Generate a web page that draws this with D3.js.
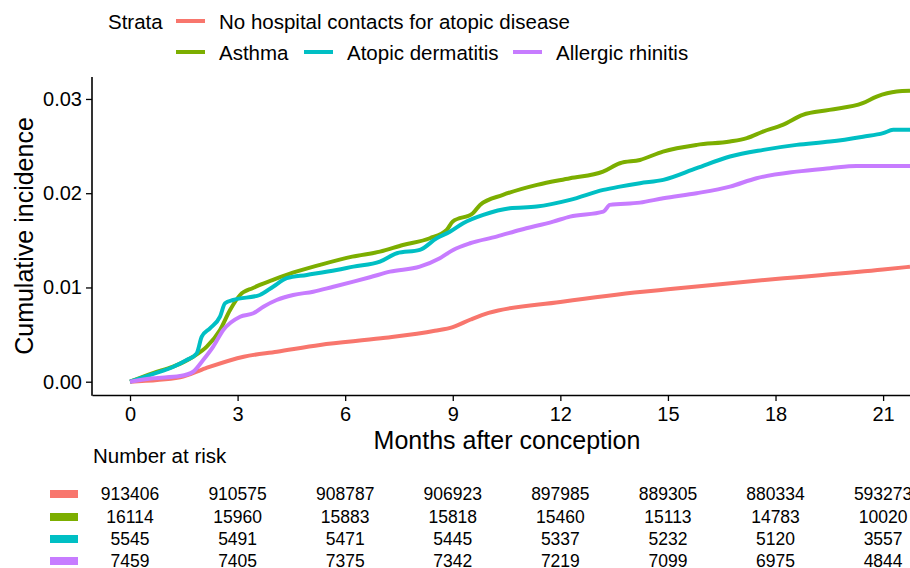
<!DOCTYPE html>
<meta charset="utf-8"/>
<style>
  body { margin: 0; background: #fff; }
  svg text { font-family: "Liberation Sans", Arial, sans-serif; fill: #000; }
  .curves path { fill: none; stroke-width: 4px; stroke-linejoin: round; }
</style>
<svg width="910" height="568"></svg>
<script src="https://d3js.org/d3.v7.min.js"></script>
<script>

  // strata, in legend order
  var strata = ["No hospital contacts for atopic disease", "Asthma", "Atopic dermatitis", "Allergic rhinitis"];
  var colors = ["#F8766D", "#7CAE00", "#00BFC4", "#C77CFF"];

  // curves: [months, cumulative incidence]
  var noContact = [[0,0],[1.4,0.00047],[2.1,0.00142],[3.17,0.00265],[4.1,0.00318],[5.3,0.0039],[7.0,0.0046],
    [8.5,0.0054],[9.0,0.0058],[9.5,0.0066],[10,0.0073],[12,0.00846],[14.3,0.00955],[15,0.0098],
    [18,0.0109],[21,0.0119],[21.75,0.0122]];
  var asthma = [[0,0],[0.64,0.00092],[1.2,0.00159],[1.76,0.00265],[2.14,0.00372],[2.51,0.00549],[2.79,0.00761],
    [3.07,0.0092],[3.43,0.00995],[3.99,0.0108],[4.54,0.01157],[5.3,0.0124],[6.2,0.01327],[6.97,0.0138],
    [7.61,0.01451],[8.36,0.01522],[8.83,0.0161],[9.0,0.017],[9.56,0.01788],[9.76,0.01876],[10.4,0.01982],
    [11.35,0.02088],[12.27,0.02159],[13.19,0.02229],[13.66,0.02318],[14.22,0.02353],[14.86,0.02442],
    [15.81,0.02513],[16.73,0.02548],[17.2,0.02584],[17.65,0.02654],[18.2,0.02725],[18.76,0.02832],
    [19.5,0.02884],[20.43,0.02955],[20.82,0.03025],[21.38,0.03079],[21.75,0.03086]];
  var atopicDermatitis = [[0,0],[0.65,0.00082],[1.21,0.00159],[1.58,0.0023],[1.86,0.00301],[2.0,0.00478],
    [2.23,0.00567],[2.51,0.0069],[2.65,0.00832],[2.88,0.00867],[3.62,0.0092],[3.99,0.01008],[4.37,0.01098],
    [4.93,0.01133],[5.76,0.01186],[6.23,0.01221],[6.97,0.01274],[7.44,0.01363],[8.08,0.01398],[8.55,0.01522],
    [8.92,0.01592],[9.29,0.01682],[9.85,0.0177],[10.59,0.01841],[11.34,0.01858],[12.27,0.01929],[13.2,0.02035],
    [13.66,0.0207],[14.22,0.02106],[14.87,0.02141],[15.8,0.02265],[16.73,0.02389],[17.66,0.0246],
    [18.59,0.02513],[19.52,0.02548],[20.44,0.026],[21.0,0.02637],[21.28,0.02672],[21.75,0.02672]];
  var allergicRhinitis = [[0,0],[0.65,0.00036],[1.39,0.0006],[1.76,0.00106],[2.04,0.0023],[2.32,0.00372],
    [2.6,0.00549],[3.07,0.0069],[3.44,0.00726],[3.72,0.00796],[4.09,0.00867],[4.55,0.0092],[5.11,0.00955],
    [5.67,0.01008],[6.23,0.01062],[6.69,0.01108],[7.25,0.01168],[8.08,0.01221],[8.64,0.0131],[9.01,0.01398],
    [9.48,0.01469],[10.22,0.01539],[10.87,0.0161],[11.8,0.01699],[12.27,0.01752],[13.2,0.01805],[13.38,0.01876],
    [14.22,0.019],[14.87,0.01947],[15.8,0.02],[16.73,0.0207],[17.47,0.02159],[18.59,0.02229],[19.52,0.02265],
    [20.26,0.0229],[21.75,0.0229]];

  var xTicks = [0, 3, 6, 9, 12, 15, 18, 21];
  var yTicks = [0, 0.01, 0.02, 0.03];

  // number at risk at each x tick
  var riskNoContact = [913406, 910575, 908787, 906923, 897985, 889305, 880334, 593273];
  var riskAsthma = [16114, 15960, 15883, 15818, 15460, 15113, 14783, 10020];
  var riskAtopic = [5545, 5491, 5471, 5445, 5337, 5232, 5120, 3557];
  var riskRhinitis = [7459, 7405, 7375, 7342, 7219, 7099, 6975, 4844];

  var curves = [noContact, asthma, atopicDermatitis, allergicRhinitis];
  var risk = [riskNoContact, riskAsthma, riskAtopic, riskRhinitis];

  var svg = d3.select("svg");
  var pLeft = 92, pRight = 910, pTop = 77, pBottom = 395;

  var x = d3.scaleLinear().domain([-1.06, 21.75]).range([pLeft, pRight]);
  var y = d3.scaleLinear().domain([-0.00141, 0.03233]).range([pBottom, pTop]);

  svg.append("defs").append("clipPath").attr("id", "plotclip")
    .append("rect").attr("x", pLeft).attr("y", pTop - 5)
    .attr("width", pRight - pLeft).attr("height", pBottom - pTop + 5);

  // curves
  var line = d3.line()
    .curve(d3.curveMonotoneX)
    .x(function (d) { return x(d[0]); })
    .y(function (d) { return y(d[1]); });

  svg.append("g")
    .attr("class", "curves")
    .attr("clip-path", "url(#plotclip)")
    .selectAll("path")
    .data(curves)
    .enter().append("path")
    .attr("stroke", function (d, i) { return colors[i]; })
    .attr("d", line);

  // axes
  var xAxis = svg.append("g")
    .attr("transform", "translate(0," + pBottom + ")")
    .call(d3.axisBottom(x).tickValues(xTicks).tickSize(6).tickPadding(6).tickSizeOuter(0));
  var yAxis = svg.append("g")
    .attr("transform", "translate(" + pLeft + ",0)")
    .call(d3.axisLeft(y).tickValues(yTicks).tickSize(6).tickPadding(4).tickSizeOuter(0)
      .tickFormat(d3.format(".2f")));

  [xAxis, yAxis].forEach(function (g) {
    g.select(".domain").attr("stroke", "#000").attr("stroke-width", 1.6);
    g.selectAll(".tick line").attr("stroke", "#000").attr("stroke-width", 1.3);
    g.selectAll(".tick text").attr("font-size", 20).attr("font-family", null).attr("fill", "#000");
  });
  yAxis.select(".domain").attr("d", "M0," + (pBottom + 0.8) + "V" + pTop);

  svg.append("text")
    .attr("x", (pLeft + pRight) / 2 + 6).attr("y", 449)
    .attr("text-anchor", "middle").attr("font-size", 25)
    .text("Months after conception");

  svg.append("text")
    .attr("transform", "translate(33," + ((pTop + pBottom) / 2) + ") rotate(-90)")
    .attr("text-anchor", "middle").attr("font-size", 25)
    .text("Cumulative incidence");

  // legend
  var legend = svg.append("g").attr("font-size", 20.5);
  legend.append("text").attr("x", 108).attr("y", 29).text("Strata");
  var legendPos = [[176, 21], [176, 52], [304, 52], [513, 52]];
  strata.forEach(function (s, i) {
    var p = legendPos[i];
    legend.append("line")
      .attr("x1", p[0]).attr("x2", p[0] + 29).attr("y1", p[1]).attr("y2", p[1])
      .attr("stroke", colors[i]).attr("stroke-width", 4);
    legend.append("text").attr("x", p[0] + 43).attr("y", p[1] + 7.5).text(s);
  });

  // risk table
  svg.append("text").attr("x", 93).attr("y", 463).attr("font-size", 20.5).text("Number at risk");
  var rowY = [494, 517, 539, 561];
  risk.forEach(function (row, i) {
    svg.append("rect")
      .attr("x", 50).attr("y", rowY[i] - 4).attr("width", 28).attr("height", 8)
      .attr("fill", colors[i]);
    svg.append("g").selectAll("text")
      .data(row)
      .enter().append("text")
      .attr("x", function (d, j) { return x(xTicks[j]); })
      .attr("y", rowY[i] + 6)
      .attr("text-anchor", "middle")
      .attr("font-size", 17.5)
      .text(function (d) { return d; });
  });

</script>
